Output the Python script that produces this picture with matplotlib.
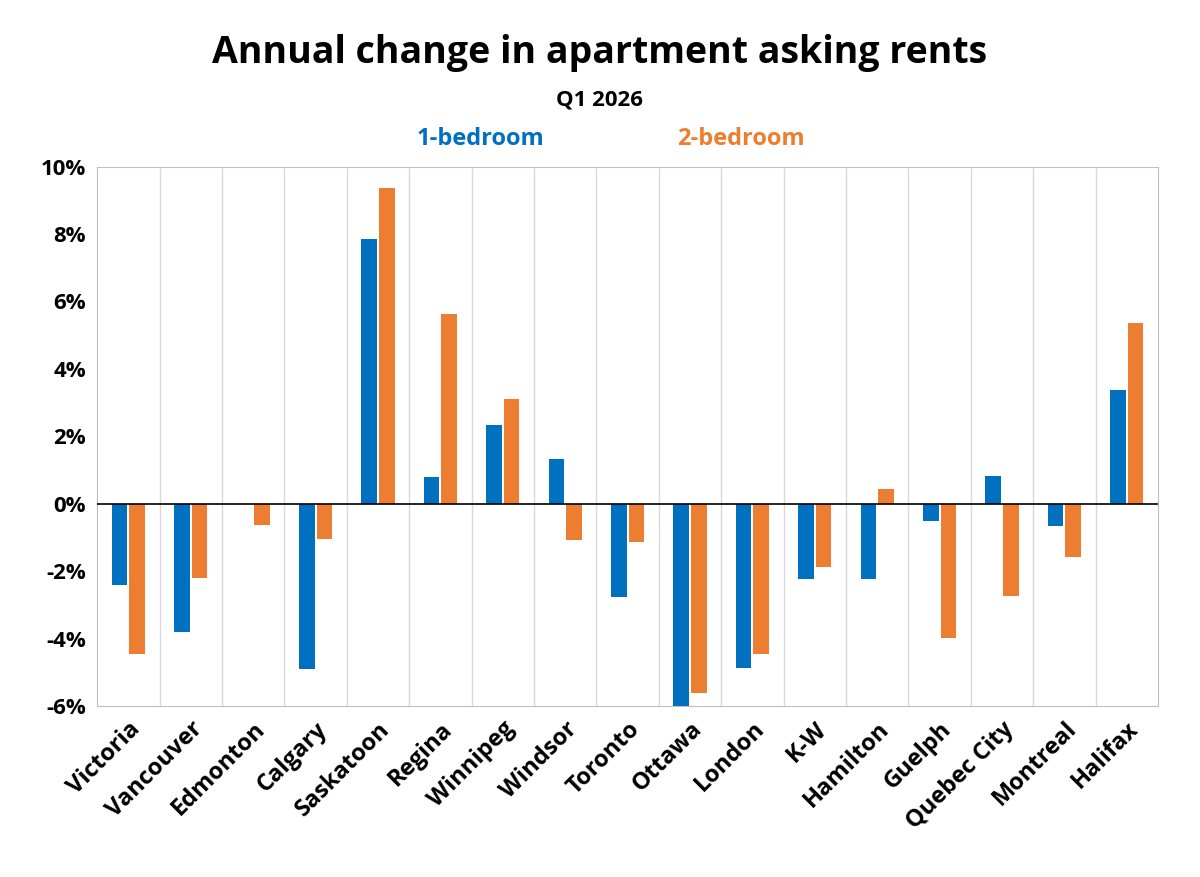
import matplotlib.pyplot as plt
import numpy as np

cities = ['Victoria', 'Vancouver', 'Edmonton', 'Calgary', 'Saskatoon', 'Regina',
          'Winnipeg', 'Windsor', 'Toronto', 'Ottawa', 'London', 'K-W', 'Hamilton',
          'Guelph', 'Quebec City', 'Montreal', 'Halifax']
one_bed = [-2.4, -3.8, 0.0, -4.9, 7.86, 0.8, 2.34, 1.34, -2.76, -6.0, -4.87, -2.23,
           -2.23, -0.5, 0.83, -0.65, 3.38]
two_bed = [-4.45, -2.2, -0.62, -1.05, 9.38, 5.64, 3.12, -1.07, -1.13, -5.6, -4.45,
           -1.87, 0.45, -3.98, -2.73, -1.57, 5.37]
yticks = [10, 8, 6, 4, 2, 0, -2, -4, -6]

plt.rcParams['font.family'] = ['Open Sans', 'DejaVu Sans']
blue, orange = '#0070C0', '#ED7D31'

fig = plt.figure(figsize=(12, 8.77), dpi=100)
ax = fig.add_axes([0.081, 0.195, 0.884, 0.615])

x = np.arange(len(cities))
ax.bar(x - 0.14, one_bed, width=0.25, color=blue, zorder=3)
ax.bar(x + 0.14, two_bed, width=0.25, color=orange, zorder=3)

ax.set_xlim(-0.5, len(cities) - 0.5)
ax.set_ylim(-6, 10)
ax.set_yticks(yticks)
ax.set_yticklabels([f'{v}%' for v in yticks], fontsize=16, fontweight='bold')
ax.set_xticks(x)
ax.set_xticklabels(cities, rotation=45, ha='right', rotation_mode='anchor',
                   fontsize=17, fontweight='bold')
ax.tick_params(length=0, pad=8)
for b in np.arange(0.5, len(cities) - 1, 1):
    ax.axvline(b, color='#d9d9d9', lw=1, zorder=1)
ax.axhline(0, color='black', lw=1.2, zorder=4)
for s in ax.spines.values():
    s.set_color('#bfbfbf')

fig.text(0.5, 0.94, 'Annual change in apartment asking rents', ha='center', va='center',
         fontsize=27, fontweight='bold')
fig.text(0.5, 0.886, 'Q1 2026', ha='center', va='center', fontsize=16, fontweight='bold')
fig.text(0.40, 0.842, '1-bedroom', ha='center', va='center', fontsize=17,
         fontweight='bold', color=blue)
fig.text(0.617, 0.842, '2-bedroom', ha='center', va='center', fontsize=17,
         fontweight='bold', color=orange)

fig.savefig('out.png', dpi=100)
